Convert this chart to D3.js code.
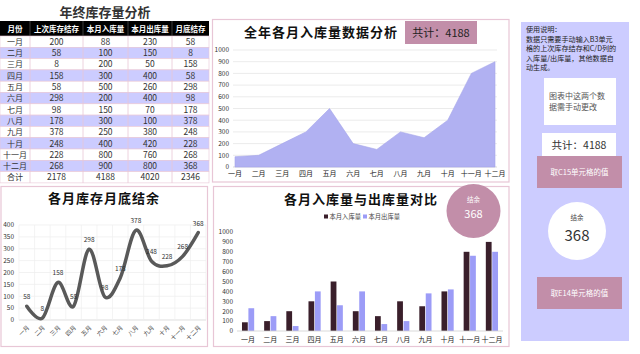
<!DOCTYPE html>
<html>
<head>
<meta charset="utf-8">
<script src="https://cdn.jsdelivr.net/npm/d3@7"></script>
<style>
  body { margin: 0; background: #fff; }
  text { font-family: "Noto Sans CJK SC", "Noto Sans", sans-serif; }
</style>
</head>
<body>
<div id="chart"></div>
<script>
// Data read from the worksheet
const months = ['一月','二月','三月','四月','五月','六月','七月','八月','九月','十月','十一月','十二月'];
const prevStock = [200, 58, 8, 158, 58, 298, 98, 178, 378, 248, 228, 268];
const inQty = [88, 100, 200, 300, 500, 200, 150, 300, 250, 400, 800, 900];
const outQty = [230, 150, 50, 400, 260, 400, 70, 100, 380, 420, 760, 800];
const endStock = [58, 8, 158, 58, 298, 98, 178, 378, 248, 228, 268, 368];
const totals = ['合计', 2178, 4188, 4020, 2346];
const headers = ['月份', '上次库存结存', '本月入库量', '本月出库量', '月底结存'];
const ticks1000 = [0, 100, 200, 300, 400, 500, 600, 700, 800, 900, 1000];
const ticks400 = [0, 50, 100, 150, 200, 250, 300, 350, 400];
const totalIn = 4188;
const balance = 368;

let width = 640, height = 354;
const pink = '#e8c6d6', mauve = '#c28ea9', lavender = '#ccccff';
const barDark = '#3a1f2b', barLight = '#9c9cf7';

let svg = d3.select('#chart')
            .append('svg')
            .attr('width', width)
            .attr('height', height);

// ---------- Table ----------
svg.append('text')
    .attr('x', 105).attr('y', 17)
    .attr('text-anchor', 'middle')
    .attr('font-size', 13).attr('font-weight', 'bold')
    .attr('fill', '#333')
    .text('年终库存量分析');

const colEdges = [0, 30, 83, 128, 172, 209];
const headTop = 21, headH = 15, rowH = 11.3;
const rows = months.map((m, i) => [m, prevStock[i], inQty[i], outQty[i], endStock[i]]);
rows.push(totals);

svg.append('rect')
    .attr('x', 0).attr('y', headTop)
    .attr('width', colEdges[5]).attr('height', headH)
    .attr('fill', '#000');

headers.forEach((h, j) => {
  svg.append('text')
      .attr('x', (colEdges[j] + colEdges[j + 1]) / 2)
      .attr('y', headTop + headH / 2 + 3)
      .attr('text-anchor', 'middle')
      .attr('font-size', 7.5).attr('font-weight', 'bold')
      .attr('fill', '#fff')
      .text(h);
});

const rowG = svg.selectAll('.row')
    .data(rows)
    .enter()
    .append('g')
    .attr('transform', (d, i) => `translate(0,${headTop + headH + i * rowH})`);

rowG.append('rect')
    .attr('width', colEdges[5]).attr('height', rowH)
    .attr('fill', (d, i) => (i % 2 === 1 && i < 12) ? lavender : '#fff')
    .attr('stroke', pink).attr('stroke-width', 0.6);

rowG.selectAll('text')
    .data(d => d)
    .enter()
    .append('text')
    .attr('x', (d, j) => (colEdges[j] + colEdges[j + 1]) / 2)
    .attr('y', rowH / 2 + 3.2)
    .attr('text-anchor', 'middle')
    .attr('font-size', (d, j) => j === 0 ? 8 : 8.5)
    .attr('fill', '#333')
    .text(d => d);

colEdges.slice(1, 5).forEach(x => {
  svg.append('line')
      .attr('x1', x).attr('x2', x)
      .attr('y1', headTop + headH).attr('y2', headTop + headH + rows.length * rowH)
      .attr('stroke', pink).attr('stroke-width', 0.8);
  svg.append('line')
      .attr('x1', x).attr('x2', x)
      .attr('y1', headTop).attr('y2', headTop + headH)
      .attr('stroke', '#666').attr('stroke-width', 0.6);
});

// ---------- Panel frames ----------
svg.append('rect').attr('x', 212.5).attr('y', 19.5).attr('width', 296.5).attr('height', 162.5)
    .attr('fill', 'none').attr('stroke', pink).attr('stroke-width', 1.2);
svg.append('rect').attr('x', 1).attr('y', 186.5).attr('width', 206.5).attr('height', 160)
    .attr('fill', 'none').attr('stroke', pink).attr('stroke-width', 1.2);
svg.append('rect').attr('x', 213.5).attr('y', 186.5).attr('width', 295.5).attr('height', 160)
    .attr('fill', 'none').attr('stroke', pink).attr('stroke-width', 1.2);

// ---------- Area chart ----------
let xArea = d3.scalePoint().domain(months).range([235, 495]);
let yArea = d3.scaleLinear().domain([0, 1000]).range([167, 50]);

svg.append('g')
    .selectAll('line')
    .data(ticks1000)
    .enter()
    .append('line')
    .attr('x1', 233).attr('x2', 497)
    .attr('y1', d => yArea(d)).attr('y2', d => yArea(d))
    .attr('stroke', d => d === 0 ? '#cfcfcf' : '#e6e6e6')
    .attr('stroke-width', 0.8);

let area = d3.area()
    .x((d, i) => xArea(months[i]))
    .y0(yArea(0))
    .y1(d => yArea(d));

svg.append('path')
    .datum(inQty)
    .attr('fill', '#b1b1f2')
    .attr('stroke', '#a5a5ea')
    .attr('stroke-width', 0.6)
    .attr('d', area);

svg.append('g')
    .selectAll('text')
    .data(ticks1000)
    .enter()
    .append('text')
    .attr('x', 229).attr('y', d => yArea(d) + 2.3)
    .attr('text-anchor', 'end')
    .attr('font-size', 6.5).attr('fill', '#333')
    .text(d => d);

svg.append('g')
    .selectAll('text')
    .data(months)
    .enter()
    .append('text')
    .attr('x', d => xArea(d)).attr('y', 176)
    .attr('text-anchor', 'middle')
    .attr('font-size', 7).attr('fill', '#222')
    .text(d => d);

svg.append('text')
    .attr('x', 321).attr('y', 37)
    .attr('text-anchor', 'middle')
    .attr('font-size', 13).attr('font-weight', 'bold')
    .attr('letter-spacing', 1)
    .attr('fill', '#111')
    .text('全年各月入库量数据分析');

svg.append('rect')
    .attr('x', 405).attr('y', 21)
    .attr('width', 72).attr('height', 23)
    .attr('fill', mauve);
svg.append('text')
    .attr('x', 441).attr('y', 37)
    .attr('text-anchor', 'middle')
    .attr('font-size', 11).attr('fill', '#222')
    .text('共计：' + totalIn);

// ---------- Line chart (month-end stock) ----------
let xLine = d3.scaleBand().domain(months).range([19, 206]);
let yLine = d3.scaleLinear().domain([0, 400]).range([320, 225]);

svg.append('g')
    .selectAll('line')
    .data(ticks400)
    .enter()
    .append('line')
    .attr('x1', 19).attr('x2', 206)
    .attr('y1', d => yLine(d)).attr('y2', d => yLine(d))
    .attr('stroke', d => d === 0 ? '#d0d0d0' : '#ececec')
    .attr('stroke-width', 0.7);

svg.append('g')
    .selectAll('line')
    .data(months.concat(['end']))
    .enter()
    .append('line')
    .attr('x1', (d, i) => 19 + i * xLine.step()).attr('x2', (d, i) => 19 + i * xLine.step())
    .attr('y1', yLine(400)).attr('y2', yLine(0))
    .attr('stroke', '#efefef')
    .attr('stroke-width', 0.7);

svg.append('g')
    .selectAll('text')
    .data(ticks400)
    .enter()
    .append('text')
    .attr('x', 14).attr('y', d => yLine(d) + 2.3)
    .attr('text-anchor', 'end')
    .attr('font-size', 6.5).attr('fill', '#333')
    .text(d => d);

let line = d3.line()
    .x((d, i) => xLine(months[i]) + xLine.bandwidth() / 2)
    .y(d => yLine(d))
    .curve(d3.curveCardinal.tension(0));

svg.append('path')
    .datum(endStock)
    .attr('fill', 'none')
    .attr('stroke', '#595959')
    .attr('stroke-width', 3.5)
    .attr('stroke-linecap', 'round')
    .attr('d', line);

svg.append('g')
    .selectAll('text')
    .data(endStock)
    .enter()
    .append('text')
    .attr('x', (d, i) => xLine(months[i]) + xLine.bandwidth() / 2)
    .attr('y', d => yLine(d) - 7)
    .attr('text-anchor', 'middle')
    .attr('font-size', 6.5).attr('fill', '#333')
    .text(d => d);

svg.append('g')
    .selectAll('text')
    .data(months)
    .enter()
    .append('text')
    .attr('transform', d => `translate(${xLine(d) + xLine.bandwidth() / 2 + 3},328) rotate(-45)`)
    .attr('text-anchor', 'end')
    .attr('font-size', 6).attr('fill', '#444')
    .text(d => d);

svg.append('text')
    .attr('x', 104).attr('y', 203)
    .attr('text-anchor', 'middle')
    .attr('font-size', 13).attr('font-weight', 'bold')
    .attr('letter-spacing', 1)
    .attr('fill', '#111')
    .text('各月库存月底结余');

// ---------- Grouped bar chart ----------
let x0 = d3.scaleBand().domain(months).range([237, 503]).paddingInner(0.45).paddingOuter(0.225);
let x1 = d3.scaleBand().domain(['in', 'out']).range([0, x0.bandwidth()]).paddingInner(0.1);
let yBar = d3.scaleLinear().domain([0, 1000]).range([331, 232]);

svg.append('g')
    .selectAll('text')
    .data(ticks1000)
    .enter()
    .append('text')
    .attr('x', 233).attr('y', d => yBar(d) + 2.3)
    .attr('text-anchor', 'end')
    .attr('font-size', 6.5).attr('fill', '#333')
    .text(d => d);

const barGroups = svg.selectAll('.bars')
    .data(months)
    .enter()
    .append('g')
    .attr('transform', d => `translate(${x0(d)},0)`);

barGroups.append('rect')
    .attr('x', x1('in'))
    .attr('y', (d, i) => yBar(inQty[i]))
    .attr('width', x1.bandwidth())
    .attr('height', (d, i) => yBar(0) - yBar(inQty[i]))
    .attr('fill', barDark);

barGroups.append('rect')
    .attr('x', x1('out'))
    .attr('y', (d, i) => yBar(outQty[i]))
    .attr('width', x1.bandwidth())
    .attr('height', (d, i) => yBar(0) - yBar(outQty[i]))
    .attr('fill', barLight);

svg.append('line')
    .attr('x1', 237).attr('x2', 503)
    .attr('y1', yBar(0)).attr('y2', yBar(0))
    .attr('stroke', '#cfcfcf').attr('stroke-width', 0.8);

svg.append('g')
    .selectAll('text')
    .data(months)
    .enter()
    .append('text')
    .attr('x', d => x0(d) + x0.bandwidth() / 2).attr('y', 342)
    .attr('text-anchor', 'middle')
    .attr('font-size', 7).attr('fill', '#222')
    .text(d => d);

svg.append('text')
    .attr('x', 361).attr('y', 204)
    .attr('text-anchor', 'middle')
    .attr('font-size', 13).attr('font-weight', 'bold')
    .attr('letter-spacing', 1)
    .attr('fill', '#111')
    .text('各月入库量与出库量对比');

// legend
const legendItems = [['本月入库量', barDark], ['本月出库量', barLight]];
legendItems.forEach((item, i) => {
  let lx = 324 + i * 39;
  svg.append('rect')
      .attr('x', lx).attr('y', 214.5)
      .attr('width', 4).attr('height', 4)
      .attr('fill', item[1]);
  svg.append('text')
      .attr('x', lx + 5.5).attr('y', 219)
      .attr('font-size', 6.3).attr('fill', '#444')
      .text(item[0]);
});

// balance bubble
svg.append('circle')
    .attr('cx', 473.5).attr('cy', 211).attr('r', 27)
    .attr('fill', mauve);
svg.append('text')
    .attr('x', 473.5).attr('y', 202)
    .attr('text-anchor', 'middle')
    .attr('font-size', 6.5).attr('fill', '#fff')
    .text('结余');
svg.append('text')
    .attr('x', 473.5).attr('y', 218)
    .attr('text-anchor', 'middle')
    .attr('font-size', 11).attr('fill', '#fff')
    .text(balance);

// ---------- Instructions panel ----------
svg.append('rect')
    .attr('x', 521).attr('y', 22)
    .attr('width', 108).attr('height', 319)
    .attr('fill', lavender);

const notes = ['使用说明：', '数据只需要手动输入B3单元', '格的上次库存结存和C/D列的', '入库量/出库量，其他数据自', '动生成。'];
notes.forEach((t, i) => {
  svg.append('text')
      .attr('x', 526).attr('y', 32 + i * 9.5)
      .attr('font-size', 7.1).attr('fill', '#222')
      .text(t);
});

svg.append('rect').attr('x', 544).attr('y', 78).attr('width', 72).attr('height', 47).attr('fill', '#fff');
['图表中这两个数', '据需手动更改'].forEach((t, i) => {
  svg.append('text')
      .attr('x', 549).attr('y', 99 + i * 11)
      .attr('font-size', 8).attr('fill', '#555')
      .text(t);
});

svg.append('rect').attr('x', 542).attr('y', 133).attr('width', 74).attr('height', 24).attr('fill', '#fff');
svg.append('text')
    .attr('x', 579).attr('y', 149)
    .attr('text-anchor', 'middle')
    .attr('font-size', 10.5).attr('fill', '#333')
    .text('共计：' + totalIn);

svg.append('rect').attr('x', 537).attr('y', 156).attr('width', 85).attr('height', 32).attr('fill', mauve);
svg.append('text')
    .attr('x', 579.5).attr('y', 175)
    .attr('text-anchor', 'middle')
    .attr('font-size', 7.5).attr('fill', '#fff')
    .text('取C15单元格的值');

svg.append('circle').attr('cx', 577).attr('cy', 231).attr('r', 29).attr('fill', '#fff');
svg.append('text')
    .attr('x', 577).attr('y', 220)
    .attr('text-anchor', 'middle')
    .attr('font-size', 6.5).attr('fill', '#444')
    .text('结余');
svg.append('text')
    .attr('x', 577).attr('y', 241)
    .attr('text-anchor', 'middle')
    .attr('font-size', 15).attr('fill', '#333')
    .text(balance);

svg.append('rect').attr('x', 537).attr('y', 277).attr('width', 85).attr('height', 32).attr('fill', mauve);
svg.append('text')
    .attr('x', 579.5).attr('y', 296)
    .attr('text-anchor', 'middle')
    .attr('font-size', 7.5).attr('fill', '#fff')
    .text('取E14单元格的值');
</script>
</body>
</html>
